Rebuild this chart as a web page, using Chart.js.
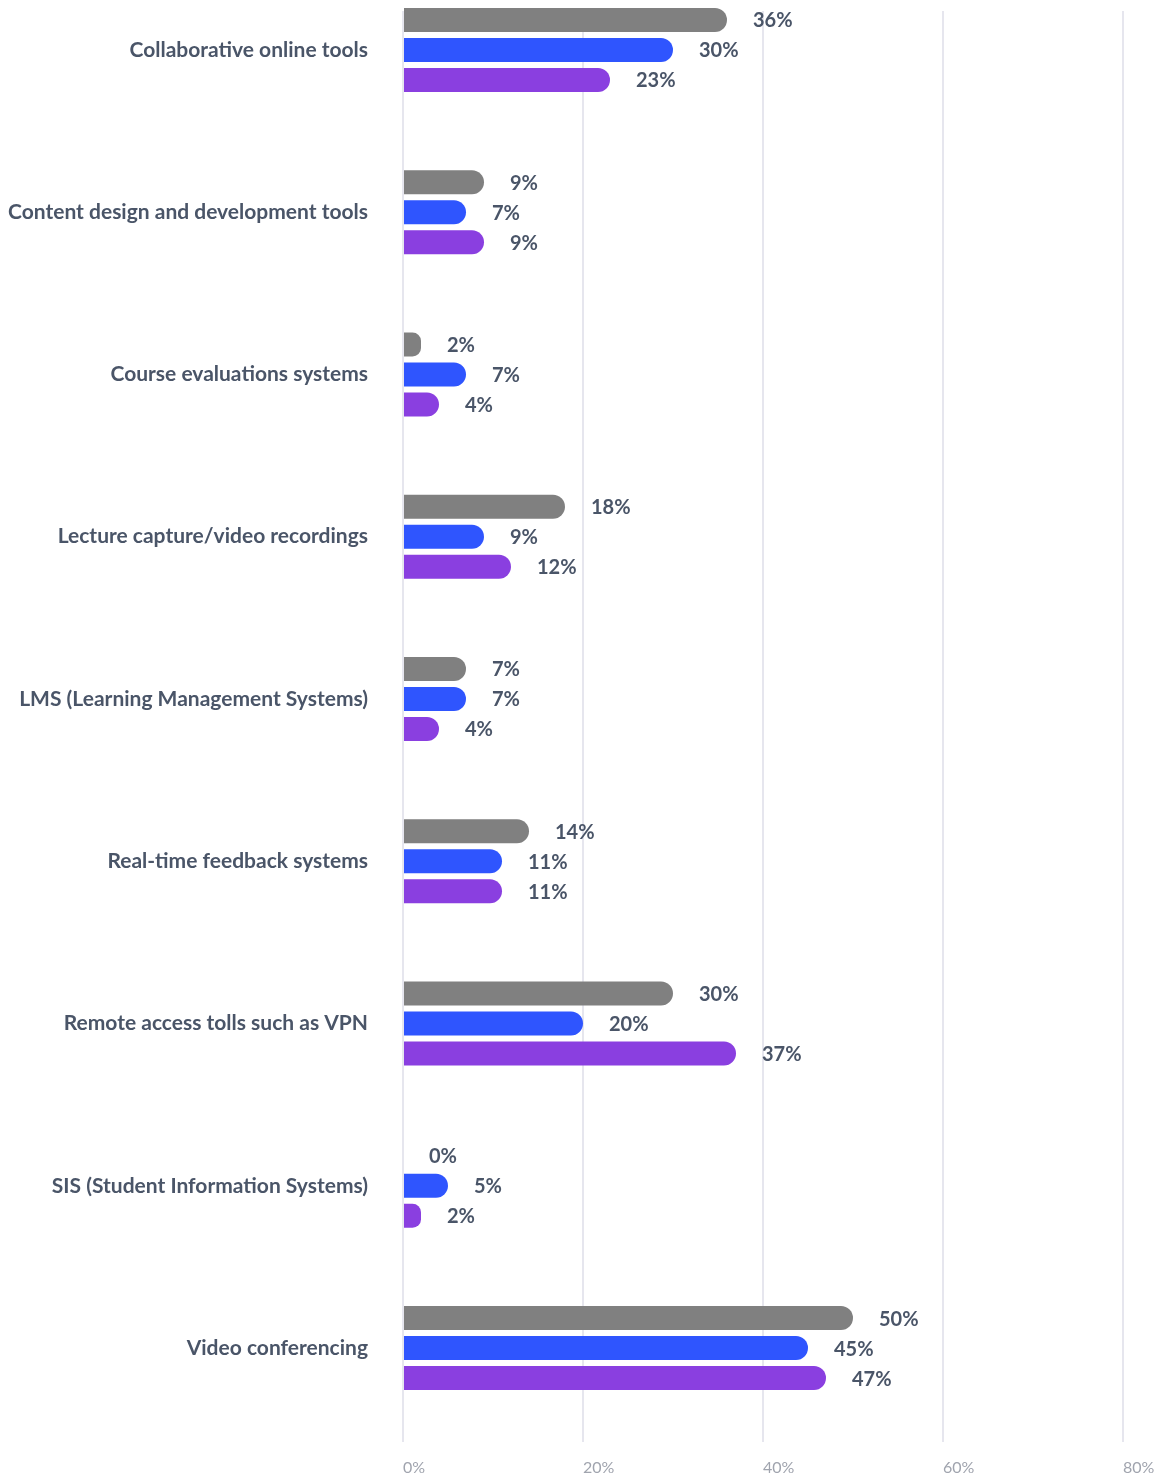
<!DOCTYPE html>
<html>
<head>
<meta charset="utf-8">
<script src="https://cdn.jsdelivr.net/npm/chart.js@4.4.1/dist/chart.umd.min.js"></script>
<style>
  html, body { margin: 0; padding: 0; background: #fff; }
  #wrap { width: 1164px; height: 1480px; position: relative; }
</style>
</head>
<body>
<div id="wrap"><canvas id="toolsChart"></canvas></div>
<script>
const categories = [
  'Collaborative online tools',
  'Content design and development tools',
  'Course evaluations systems',
  'Lecture capture/video recordings',
  'LMS (Learning Management Systems)',
  'Real-time feedback systems',
  'Remote access tolls such as VPN',
  'SIS (Student Information Systems)',
  'Video conferencing'
];

// three series, grey / blue / purple (percent)
const greyValues   = [36, 9, 2, 18, 7, 14, 30, 0, 50];
const blueValues   = [30, 7, 7, 9, 7, 11, 20, 5, 45];
const purpleValues = [23, 9, 4, 12, 4, 11, 37, 2, 47];

const xTicks = [0, 20, 40, 60, 80];

const textColor = '#4a5568';

// draws "NN%" after each bar
const barLabels = {
  id: 'barLabels',
  afterDatasetsDraw(chart) {
    const ctx = chart.ctx;
    ctx.save();
    ctx.font = 'bold 20px Lato';
    ctx.fillStyle = textColor;
    ctx.textAlign = 'left';
    ctx.textBaseline = 'middle';
    chart.data.datasets.forEach((ds, di) => {
      const meta = chart.getDatasetMeta(di);
      meta.data.forEach((bar, i) => {
        ctx.fillText(ds.data[i].x + '%', bar.x + 26, bar.y + 1);
      });
    });
    ctx.restore();
  }
};

const toPoints = vals => vals.map((v, i) => ({ x: v, y: i }));

const ctx = document.getElementById('toolsChart').getContext('2d');
new Chart(ctx, {
  type: 'bar',
  data: {
    datasets: [
      { label: 'Grey', data: toPoints(greyValues), backgroundColor: '#808080' },
      { label: 'Blue', data: toPoints(blueValues), backgroundColor: '#2f55fe' },
      { label: 'Purple', data: toPoints(purpleValues), backgroundColor: '#8a3fe0' }
    ]
  },
  plugins: [barLabels],
  options: {
    indexAxis: 'y',
    responsive: true,
    maintainAspectRatio: false,
    animation: false,
    layout: { padding: { top: 11, right: 41, bottom: 0, left: 0 } },
    datasets: {
      bar: {
        categoryPercentage: 0.5547,
        barPercentage: 0.8,
        borderRadius: 12,
        borderSkipped: 'start',
        clip: false
      }
    },
    scales: {
      x: {
        type: 'linear',
        position: 'bottom',
        min: xTicks[0],
        max: xTicks[xTicks.length - 1],
        afterBuildTicks: scale => { scale.ticks = xTicks.map(v => ({ value: v })); },
        grid: { color: '#e6e6ee', lineWidth: 2, drawTicks: false },
        border: { display: false },
        ticks: {
          align: 'start',
          padding: 16,
          color: '#a0a4ae',
          font: { family: 'Lato', size: 16 },
          callback: v => v + '%'
        },
        afterFit: scale => {
          scale.height = 38;
          scale.paddingLeft = 0;
          scale.paddingRight = 0;
        }
      },
      y: {
        type: 'linear',
        reverse: true,
        offset: false,
        min: -0.24,
        max: 8.579,
        grid: { display: false, offset: false },
        border: { display: false },
        ticks: {
          stepSize: 1,
          includeBounds: false,
          autoSkip: false,
          padding: 27,
          color: textColor,
          font: { family: 'Lato', size: 21, weight: 'bold' },
          callback: v => categories[v] !== undefined ? categories[v] : ''
        },
        afterFit: scale => {
          scale.width = 403;
          scale.paddingTop = 0;
          scale.paddingBottom = 0;
        }
      }
    },
    plugins: {
      legend: { display: false },
      tooltip: { enabled: false },
      title: { display: false }
    }
  }
});
</script>
</body>
</html>
